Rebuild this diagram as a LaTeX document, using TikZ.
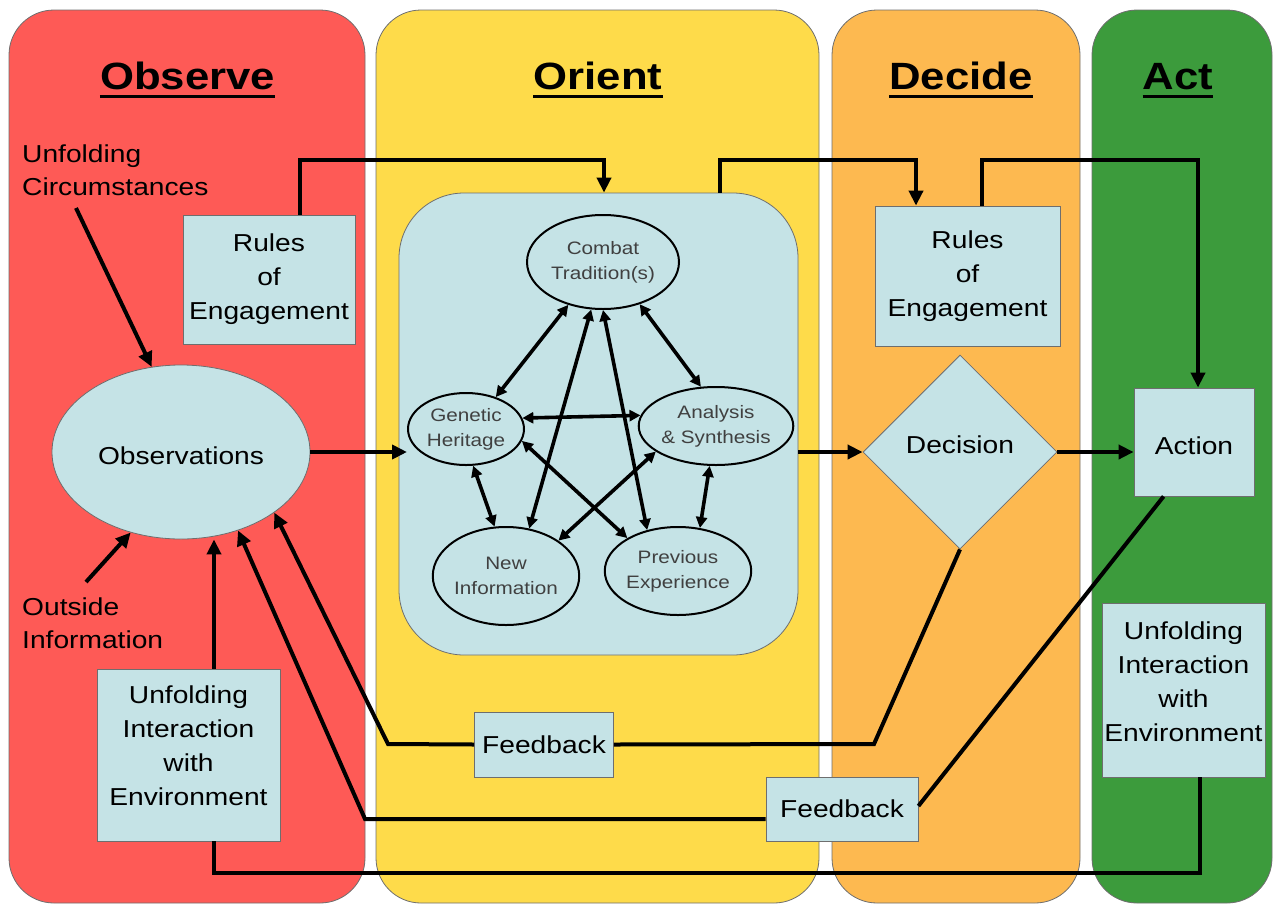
\documentclass[tikz,border=0pt]{standalone}
\usepackage{fontspec}
\setmainfont{Liberation Sans}[FakeStretch=1.15]
\usetikzlibrary{arrows.meta,shapes.geometric}
\definecolor{obsred}{RGB}{254,90,86}
\definecolor{oriyellow}{RGB}{254,219,74}
\definecolor{decorange}{RGB}{253,185,80}
\definecolor{actgreen}{RGB}{60,155,60}
\definecolor{lblue}{RGB}{197,227,230}
\definecolor{edgegray}{RGB}{110,110,110}
\tikzset{
  lane/.style={draw=edgegray,line width=0.8pt,rounded corners=45pt},
  box/.style={draw=edgegray,line width=0.8pt,fill=lblue,align=center,inner sep=0pt,
    font=\fontsize{24.5}{34}\selectfont},
  inell/.style={ellipse,draw=black,line width=2pt,fill=lblue,align=center,inner sep=0pt,
    text=black!75,font=\fontsize{18}{25}\selectfont},
  titletext/.style={inner sep=0pt,anchor=base,font=\fontsize{38}{44}\selectfont\bfseries},
  lbl/.style={inner sep=0pt,anchor=north west,align=left,font=\fontsize{24.5}{33}\selectfont},
  conn/.style={line width=4pt,-{Triangle[length=15pt,width=14pt]}},
  plainline/.style={line width=4pt},
  inarr/.style={line width=3.6pt,{Triangle[length=11pt,width=11pt]}-{Triangle[length=11pt,width=11pt]}},
  uline/.style={line width=3pt}
}
\begin{document}
\begin{tikzpicture}[x=1pt,y=-1pt]
\useasboundingbox (0,0) rectangle (1276,905);
% lanes
\draw[lane,fill=obsred] (9,10) rectangle (365,903);
\draw[lane,fill=oriyellow] (376,10) rectangle (819,903);
\draw[lane,fill=decorange] (832,10) rectangle (1080,903);
\draw[lane,fill=actgreen] (1092,10) rectangle (1272,903);
% titles
\node[titletext] (tobs) at (187.5,89) {Observe};
\node[titletext] (tori) at (598,89) {Orient};
\node[titletext] (tdec) at (961,89) {Decide};
\node[titletext] (tact) at (1178,89) {Act};
\foreach \t in {tobs,tori,tdec,tact}{
  \draw[uline] ([yshift=-7pt]\t.base west) -- ([yshift=-7pt]\t.base east);
}
% labels
\node[lbl] (uc) at (22,145) {Unfolding\\Circumstances};
\node[lbl] (oi) at (22,598) {Outside\\Information};
% boxes
\node[box,minimum width=172pt,minimum height=129pt] (lroe) at (269,279.5) {Rules\\of\\Engagement};
\node[box,minimum width=185pt,minimum height=140pt] (rroe) at (967.5,276) {Rules\\of\\Engagement};
\node[box,ellipse,minimum width=258pt,minimum height=174pt,text height=25pt] (obs) at (181,452) {Observations};
\node[box,rounded corners=65pt,minimum width=399pt,minimum height=462pt] (inner) at (598.5,424) {};
\node[box,diamond,aspect=1,minimum width=194pt,minimum height=194pt,text depth=14pt] (dec) at (960,452) {Decision};
\node[box,minimum width=120pt,minimum height=108pt,text height=25pt] (act) at (1194,442) {Action};
\node[box,minimum width=163pt,minimum height=174pt,text depth=17pt] (ru) at (1183.5,690) {Unfolding\\Interaction\\with\\Environment};
\node[box,minimum width=183pt,minimum height=172pt,text depth=19pt] (lu) at (188.5,755) {Unfolding\\Interaction\\with\\Environment};
\node[box,minimum width=139pt,minimum height=65pt] (fb1) at (544,744.5) {Feedback};
\node[box,minimum width=152pt,minimum height=64pt] (fb2) at (842,809) {Feedback};
% inner ellipses
\node[inell,minimum width=152pt,minimum height=94pt] (ct) at (603,262) {Combat\\Tradition(s)};
\node[inell,minimum width=116pt,minimum height=72pt] (gh) at (466,429) {Genetic\\Heritage};
\node[inell,minimum width=142pt,minimum height=78pt] (as) at (716,426) {Analysis\\\&{} Synthesis};
\node[inell,minimum width=132pt,minimum height=98pt] (ni) at (506,576) {New\\Information};
\node[inell,minimum width=130pt,minimum height=88pt] (pe) at (678,571) {Previous\\Experience};
% inner arrows
\draw[inarr] (ct.-129) -- (gh.47.6);
\draw[inarr] (ct.-49.5) -- (as.111);
\draw[inarr] (ct.-104) -- (ni.64);
\draw[inarr] (ct.-90) -- (pe.127);
\draw[inarr] (gh.11) -- (as.172);
\draw[inarr] (gh.-79) -- (ni.103);
\draw[inarr] (gh.-12) -- (pe.147);
\draw[inarr] (as.203) -- (ni.34);
\draw[inarr] (as.-99) -- (pe.63);
% coordinates
\coordinate (ucs) at (76,208);
\coordinate (ois) at (86,582);
\coordinate (t1) at (604,160);
\coordinate (t2) at (916,160);
\coordinate (t3) at (1198,160);
\coordinate (c1) at (388,744);
\coordinate (c2) at (874,744);
\coordinate (c3) at (365,819);
\coordinate (c4) at (214,873);
% connectors
\draw[conn] (ucs) -- (obs.109);
\draw[conn] (ois) -- (obs.-122);
\draw[conn] ([xshift=31pt]lroe.north) |- (t1) -- (t1 |- inner.north);
\draw[conn] ([xshift=121.5pt]inner.north) |- (t2) -- (t2 |- rroe.north);
\draw[conn] ([xshift=14.5pt]rroe.north) |- (t3) -- (t3 |- act.north);
\draw[conn] (obs.east) -- (obs.east -| gh.west);
\draw[conn] (inner.east |- dec.west) -- (dec.west);
\draw[conn] (dec.east) -- (dec.east -| act.west);
\draw[conn] (fb1.west) -- (c1) -- (obs.-33.4);
\draw[plainline] (fb1.east) -- (c2) -- (dec.south);
\draw[conn] ([yshift=-10pt]fb2.west) -- (c3) -- (obs.-54.3);
\draw[plainline] ([yshift=3pt]fb2.east) -- ([xshift=30pt]act.south west);
\draw[plainline] ([xshift=16.5pt]ru.south) |- (c4) -- ([xshift=25.5pt]lu.south);
\draw[conn] ([xshift=25.5pt]lu.north) -- ([xshift=25.5pt]lu.north |- obs.south);
\end{tikzpicture}
\end{document}
